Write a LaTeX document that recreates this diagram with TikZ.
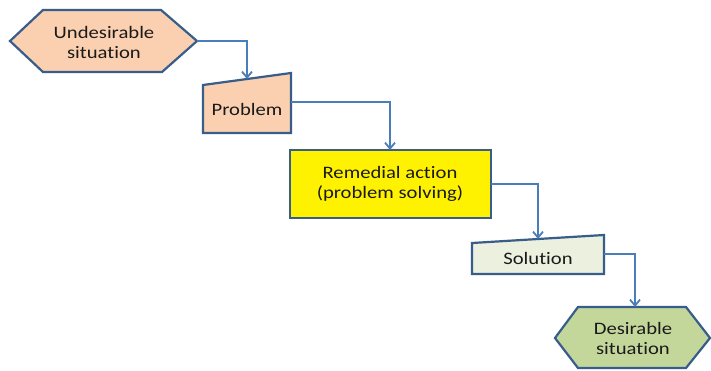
\documentclass[tikz,border=0pt]{standalone}
\usepackage{fontspec}
\setmainfont{Carlito}[FakeStretch=1.18,Ligatures=NoCommon]
\usetikzlibrary{arrows.meta}
\definecolor{outl}{HTML}{385D8A}
\definecolor{conn}{HTML}{4A7EBB}
\definecolor{peach}{HTML}{FBD0B0}
\definecolor{solfill}{HTML}{EBF1DE}
\definecolor{desfill}{HTML}{C4D79B}
\definecolor{txt}{HTML}{1A1A1A}
\tikzset{
  shapeline/.style={draw=outl, line width=2.2pt, line join=miter},
  conline/.style={draw=conn, line width=2pt, -{Straight Barb[length=6pt,width=10pt,line width=1.8pt]}},
  lbl/.style={align=center, text=txt, font=\fontsize{17.5}{20}\selectfont, inner sep=0pt}
}
\begin{document}
\begin{tikzpicture}[x=1pt,y=-1pt]
\useasboundingbox (0,0) rectangle (711,370);
\fill[white] (0,0) rectangle (711,370);
% shapes
\draw[shapeline, fill=peach] (10,41) -- (43,10) -- (161,10) -- (197,41) -- (162,72) -- (43,72) -- cycle;
\draw[shapeline, fill=peach] (203,85) -- (291,73) -- (291,133) -- (203,133) -- cycle;
\draw[shapeline, fill=yellow] (290,150) rectangle (491,218);
\draw[shapeline, fill=solfill] (472,243) -- (604,235) -- (604,274) -- (472,274) -- cycle;
\draw[shapeline, fill=desfill] (555,338) -- (578,307) -- (686,307) -- (710,338) -- (686,368) -- (578,368) -- cycle;
% labels
\node[lbl] (und) at (104,42) {Undesirable\\situation};
\node[lbl] (prob) at (247,109) {Problem};
\node[lbl] (rem) at (390,184) {Remedial action\\(problem solving)};
\node[lbl] (sol) at (538,258) {Solution};
\node[lbl] (des) at (633,338) {Desirable\\situation};
% connector anchors
\coordinate (und-e) at (197,41);
\coordinate (prob-n) at (247,79);
\coordinate (prob-e) at (291,102);
\coordinate (rem-n) at (390,150);
\coordinate (rem-e) at (491,184);
\coordinate (sol-n) at (538,239);
\coordinate (sol-e) at (604,254);
\coordinate (des-n) at (635,307);
% connectors
\draw[conline] (und-e) -| (prob-n);
\draw[conline] (prob-e) -| (rem-n);
\draw[conline] (rem-e) -| (sol-n);
\draw[conline] (sol-e) -| (des-n);
\end{tikzpicture}
\end{document}
